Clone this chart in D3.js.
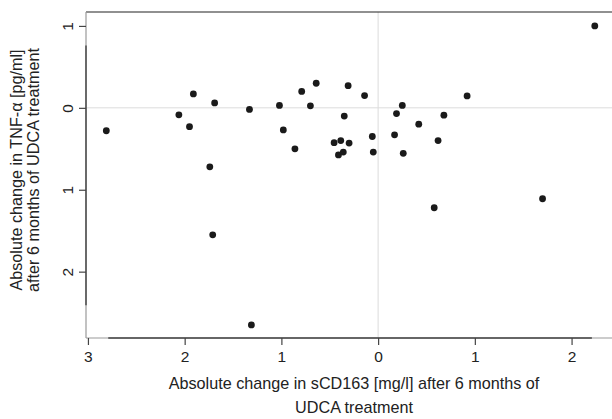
<!DOCTYPE html>
<html>
<head>
<meta charset="utf-8">
<script src="https://cdn.jsdelivr.net/npm/d3@7"></script>
<style>
  body { margin: 0; background: #fff; }
  svg { display: block; font-family: "Liberation Sans", Arial, sans-serif; }
</style>
</head>
<body>
<div id="chart"></div>
<script>
// change in sCD163 (x) vs change in TNF-alpha (y)
const sCD163 = [-2.81, -2.06, -1.95, -1.91, -1.69, -1.74, -1.71, -1.33, -1.31, -1.02,
  -0.98, -0.86, -0.79, -0.64, -0.70, -0.35, -0.455, -0.386, -0.41, -0.36,
  -0.30, -0.31, -0.14, -0.06, -0.05, 0.25, 0.19, 0.17, 0.26, 0.42,
  0.68, 0.62, 0.58, 0.92, 1.70, 2.24];
const tnfAlpha = [-0.28, -0.085, -0.23, 0.17, 0.06, -0.72, -1.55, -0.02, -2.65, 0.03,
  -0.27, -0.50, 0.20, 0.30, 0.025, -0.10, -0.425, -0.40, -0.575, -0.54,
  -0.43, 0.27, 0.15, -0.35, -0.54, 0.03, -0.07, -0.33, -0.555, -0.20,
  -0.09, -0.40, -1.22, 0.145, -1.11, 1.0];

const xTicks = [-3, -2, -1, 0, 1, 2];
const xTickLabels = ['3', '2', '1', '0', '1', '2'];
const yTicks = [1, 0, -1, -2];
const yTickLabels = ['1', '0', '1', '2'];
// darker stretch of each axis line
const xDark = [-2.79, 2.21];
const yDark = [0.76, -2.41];

const width = 612, height = 419;
const margin = { top: 12, right: -6, bottom: 80, left: 86 };
const font = '"Liberation Sans", Arial, sans-serif';

const svg = d3.select('#chart').append('svg')
  .attr('width', width)
  .attr('height', height);

const x = d3.scaleLinear()
  .domain([-3.02, 2.48])
  .range([margin.left, width - margin.right]);

const y = d3.scaleLinear()
  .domain([-2.81, 1.17])
  .range([height - margin.bottom - 1, margin.top]);

const x0 = x.range()[0], x1 = x.range()[1];
const y0 = y.range()[1], y1 = y.range()[0];

// zero reference lines
svg.append('line')
  .attr('x1', x(0)).attr('x2', x(0))
  .attr('y1', y0).attr('y2', y1)
  .attr('stroke', '#dcdcdc').attr('stroke-width', 1);
svg.append('line')
  .attr('x1', x0).attr('x2', x1)
  .attr('y1', y(0)).attr('y2', y(0))
  .attr('stroke', '#dcdcdc').attr('stroke-width', 1);

// frame
svg.append('line')
  .attr('x1', x0).attr('x2', x1)
  .attr('y1', y0).attr('y2', y0)
  .attr('stroke', '#222').attr('stroke-width', 1.2);
svg.append('line')
  .attr('x1', x0).attr('x2', x0)
  .attr('y1', y0).attr('y2', y1)
  .attr('stroke', '#999').attr('stroke-width', 1.2);
svg.append('line')
  .attr('x1', x0).attr('x2', x1)
  .attr('y1', y1).attr('y2', y1)
  .attr('stroke', '#999').attr('stroke-width', 1.2);
svg.append('line')
  .attr('x1', x0).attr('x2', x0)
  .attr('y1', y(yDark[0])).attr('y2', y(yDark[1]))
  .attr('stroke', '#444').attr('stroke-width', 1.4);
svg.append('line')
  .attr('x1', x(xDark[0])).attr('x2', x(xDark[1]))
  .attr('y1', y1).attr('y2', y1)
  .attr('stroke', '#444').attr('stroke-width', 1.4);

// x axis
const xAxis = svg.append('g')
  .attr('transform', `translate(0,${y1})`)
  .call(d3.axisBottom(x).tickValues(xTicks).tickSize(7).tickPadding(6)
    .tickFormat((d, i) => xTickLabels[i]));
xAxis.select('.domain').remove();
xAxis.selectAll('line').attr('stroke', '#444').attr('stroke-width', 1.2);
xAxis.selectAll('text').attr('font-size', 15.5).attr('fill', '#222')
  .attr('font-family', font);

// y axis
const yAxis = svg.append('g')
  .attr('transform', `translate(${x0},0)`)
  .call(d3.axisLeft(y).tickValues(yTicks).tickSize(7).tickPadding(6)
    .tickFormat((d, i) => yTickLabels[i]));
yAxis.select('.domain').remove();
yAxis.selectAll('line').attr('stroke', '#444').attr('stroke-width', 1.2);
yAxis.selectAll('text')
  .attr('font-size', 15.5).attr('fill', '#222')
  .attr('font-family', font)
  .attr('text-anchor', 'middle')
  .attr('dy', null)
  .attr('x', null)
  .attr('transform', 'translate(-13,0) rotate(-90)');

// points
svg.append('g')
  .selectAll('circle')
  .data(sCD163)
  .enter()
  .append('circle')
  .attr('cx', d => x(d))
  .attr('cy', (d, i) => y(tnfAlpha[i]))
  .attr('r', 3.4)
  .attr('fill', '#1a1a1a');

// axis titles
const cx = (x0 + x1) / 2 + 2;
svg.append('text')
  .attr('x', cx).attr('y', 389)
  .attr('text-anchor', 'middle')
  .attr('font-size', 16.2).attr('fill', '#222')
  .text('Absolute change in sCD163 [mg/l] after 6 months of');
svg.append('text')
  .attr('x', cx).attr('y', 413)
  .attr('text-anchor', 'middle')
  .attr('font-size', 16.2).attr('fill', '#222')
  .text('UDCA treatment');

const cy = (y0 + y1) / 2 - 5;
svg.append('text')
  .attr('transform', `translate(22,${cy}) rotate(-90)`)
  .attr('text-anchor', 'middle')
  .attr('font-size', 16.2).attr('fill', '#222')
  .text('Absolute change in TNF-α [pg/ml]');
svg.append('text')
  .attr('transform', `translate(39,${cy}) rotate(-90)`)
  .attr('text-anchor', 'middle')
  .attr('font-size', 16.2).attr('fill', '#222')
  .text('after 6 months of UDCA treatment');
</script>
</body>
</html>
